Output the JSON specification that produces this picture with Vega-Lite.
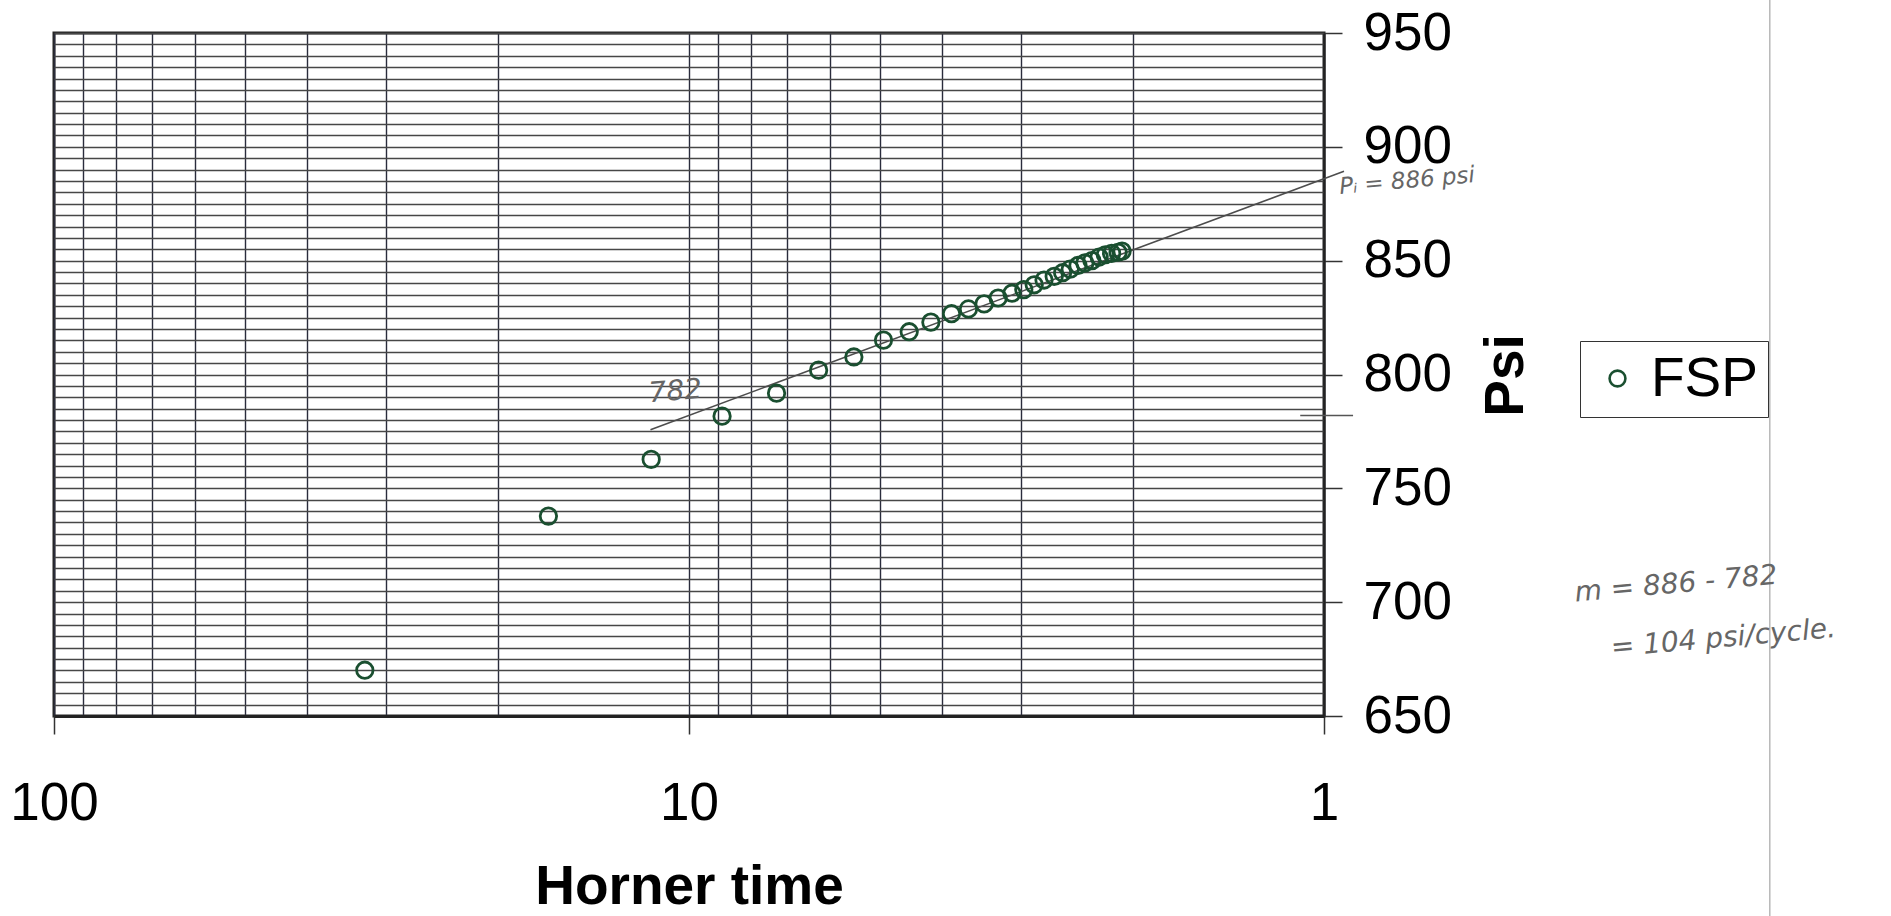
{
  "$schema": "https://vega.github.io/schema/vega-lite/v6.json",
  "width": 1270,
  "height": 683,
  "autosize": {"type": "none"},
  "padding": {"left": 54, "top": 33, "right": 567, "bottom": 200},
  "background": "white",
  "config": {
    "view": {"stroke": "#262626", "strokeWidth": 3},
    "font": "Liberation Sans"
  },
  "datasets": {
    "fsp": [
      {"t": 32.4, "psi": 670.1, "series": "FSP"},
      {"t": 16.65, "psi": 737.8, "series": "FSP"},
      {"t": 11.47, "psi": 762.7, "series": "FSP"},
      {"t": 8.87, "psi": 781.7, "series": "FSP"},
      {"t": 7.28, "psi": 791.8, "series": "FSP"},
      {"t": 6.25, "psi": 801.9, "series": "FSP"},
      {"t": 5.5, "psi": 807.7, "series": "FSP"},
      {"t": 4.94, "psi": 815.1, "series": "FSP"},
      {"t": 4.5, "psi": 818.8, "series": "FSP"},
      {"t": 4.16, "psi": 823.0, "series": "FSP"},
      {"t": 3.86, "psi": 826.7, "series": "FSP"},
      {"t": 3.63, "psi": 828.8, "series": "FSP"},
      {"t": 3.43, "psi": 831.0, "series": "FSP"},
      {"t": 3.26, "psi": 833.6, "series": "FSP"},
      {"t": 3.1, "psi": 835.7, "series": "FSP"},
      {"t": 2.97, "psi": 837.3, "series": "FSP"},
      {"t": 2.86, "psi": 839.4, "series": "FSP"},
      {"t": 2.76, "psi": 841.5, "series": "FSP"},
      {"t": 2.66, "psi": 843.1, "series": "FSP"},
      {"t": 2.58, "psi": 844.7, "series": "FSP"},
      {"t": 2.51, "psi": 846.3, "series": "FSP"},
      {"t": 2.44, "psi": 847.9, "series": "FSP"},
      {"t": 2.38, "psi": 849.0, "series": "FSP"},
      {"t": 2.32, "psi": 850.0, "series": "FSP"},
      {"t": 2.26, "psi": 851.6, "series": "FSP"},
      {"t": 2.21, "psi": 852.6, "series": "FSP"},
      {"t": 2.16, "psi": 853.2, "series": "FSP"},
      {"t": 2.11, "psi": 853.7, "series": "FSP"},
      {"t": 2.08, "psi": 854.2, "series": "FSP"}
    ],
    "fit": [
      {"t": 11.5, "psi": 775.7},
      {"t": 0.93, "psi": 889.3}
    ],
    "mark782": [
      {"t": 1.09, "psi": 782},
      {"t": 0.9, "psi": 782}
    ],
    "edge": [
      {"t": 0.1986, "psi": 966},
      {"t": 0.1986, "psi": 560}
    ],
    "notes": [
      {"t": 10.5, "psi": 792.3, "label": "782"},
      {"t": 0.279, "psi": 707.7, "label": "m = 886 - 782"},
      {"t": 0.235, "psi": 683.9, "label": "= 104 psi/cycle."}
    ],
    "pinote": [
      {"t": 0.74, "psi": 885, "label": "Pᵢ = 886 psi"}
    ]
  },
  "encoding": {
    "x": {
      "field": "t",
      "type": "quantitative",
      "scale": {"type": "log", "domain": [1, 100], "reverse": true, "nice": false},
      "axis": {
        "values": [1, 2, 3, 4, 5, 6, 7, 8, 9, 10, 20, 30, 40, 50, 60, 70, 80, 90, 100],
        "labelExpr": "datum.value == 1 || datum.value == 10 || datum.value == 100 ? format(datum.value, 'd') : ''",
        "labelOverlap": false,
        "labelFlush": false,
        "labelBound": false,
        "labelFontSize": 53,
        "labelColor": "black",
        "labelPadding": 43,
        "tickSize": 18,
        "tickWidth": 1.5,
        "tickColor": "#333",
        "tickOpacity": {"condition": {"test": "datum.value == 1 || datum.value == 10 || datum.value == 100", "value": 1}, "value": 0},
        "grid": true,
        "gridColor": "#2a2c3c",
        "gridWidth": 1.4,
        "gridOpacity": 1,
        "domain": true,
        "domainColor": "#222",
        "domainWidth": 3,
        "title": "Horner time",
        "titleFontSize": 55,
        "titleFontWeight": "bold",
        "titleColor": "black",
        "titlePadding": 30
      }
    },
    "y": {
      "field": "psi",
      "type": "quantitative",
      "scale": {"domain": [650, 950], "nice": false, "zero": false},
      "axis": {
        "orient": "right",
        "values": [650, 655, 660, 665, 670, 675, 680, 685, 690, 695, 700, 705, 710, 715, 720, 725, 730, 735, 740, 745, 750, 755, 760, 765, 770, 775, 780, 785, 790, 795, 800, 805, 810, 815, 820, 825, 830, 835, 840, 845, 850, 855, 860, 865, 870, 875, 880, 885, 890, 895, 900, 905, 910, 915, 920, 925, 930, 935, 940, 945, 950],
        "labelExpr": "datum.value % 50 == 0 ? format(datum.value, 'd') : ''",
        "labelOverlap": false,
        "labelFlush": false,
        "labelBound": false,
        "labelFontSize": 53,
        "labelColor": "black",
        "labelPadding": 21,
        "tickSize": 18,
        "tickWidth": 1.5,
        "tickColor": "#333",
        "tickOpacity": {"condition": {"test": "datum.value % 50 == 0", "value": 1}, "value": 0},
        "grid": true,
        "gridColor": "#474747",
        "gridWidth": 1.3,
        "gridOpacity": 1,
        "domain": true,
        "domainColor": "#222",
        "domainWidth": 2,
        "title": "Psi",
        "titleAngle": 270,
        "titleFontSize": 55,
        "titleFontWeight": "bold",
        "titleColor": "black",
        "titleX": 181,
        "titleY": 342,
        "titleAlign": "center",
        "titleBaseline": "middle"
      }
    }
  },
  "layer": [
    {
      "data": {"name": "edge"},
      "mark": {"type": "line", "color": "#b8b8b8", "strokeWidth": 1.5},
      "encoding": {}
    },
    {
      "data": {"name": "fit"},
      "mark": {"type": "line", "color": "#4d4d4d", "strokeWidth": 1.6},
      "encoding": {}
    },
    {
      "data": {"name": "mark782"},
      "mark": {"type": "line", "color": "#555555", "strokeWidth": 1.5},
      "encoding": {}
    },
    {
      "data": {"name": "fsp"},
      "mark": {"type": "point", "shape": "circle", "filled": false, "size": 270, "strokeWidth": 2.8, "opacity": 1},
      "encoding": {
        "color": {
          "field": "series",
          "type": "nominal",
          "scale": {"range": ["#1a4f30"]},
          "legend": {
            "title": null,
            "orient": "none",
            "legendX": 1526,
            "legendY": 308,
            "labelFontSize": 55,
            "labelColor": "black",
            "symbolSize": 250,
            "symbolStrokeWidth": 2.6,
            "symbolType": "circle",
            "strokeColor": "#333",
            "fillColor": "white",
            "padding": 10,
            "labelOffset": 6
          }
        }
      }
    },
    {
      "data": {"name": "notes"},
      "mark": {"type": "text", "font": "DejaVu Sans", "fontStyle": "italic", "fontSize": 28, "color": "#666666", "angle": -5},
      "encoding": {"text": {"field": "label", "type": "nominal"}}
    },
    {
      "data": {"name": "pinote"},
      "mark": {"type": "text", "font": "DejaVu Sans", "fontStyle": "italic", "fontSize": 23, "color": "#666666", "angle": -5},
      "encoding": {"text": {"field": "label", "type": "nominal"}}
    }
  ]
}
